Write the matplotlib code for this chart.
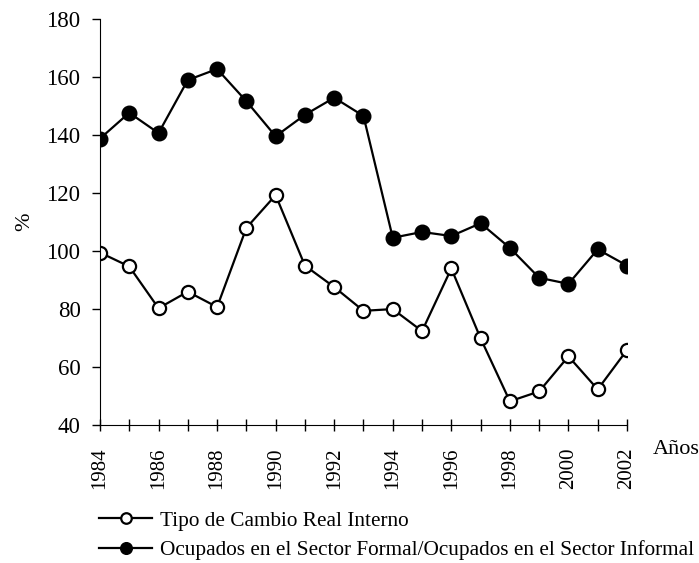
import numpy as np
from matplotlib import pyplot as plt

plt.rcParams['font.family'] = ['Liberation Serif', 'DejaVu Serif']

years = np.arange(1984, 2003)
tcri = [99.5, 94.7, 80.3, 86.0, 80.7, 108.0, 119.3, 95.0, 87.6, 79.4,
        80.0, 72.4, 94.0, 69.9, 48.2, 51.6, 63.7, 52.3, 65.9]
formal_informal = [138.8, 147.7, 140.7, 159.0, 162.8, 151.7, 139.6, 147.0, 152.9, 146.6,
                   104.6, 106.6, 105.2, 109.6, 101.1, 90.8, 88.7, 100.6, 95.0]
label_open = 'Tipo de Cambio Real Interno'
label_filled = 'Ocupados en el Sector Formal/Ocupados en el Sector Informal'

fig = plt.figure(figsize=(6.99, 5.63), dpi=100)
ax = fig.add_axes([0.143, 0.245, 0.754, 0.721])

ax.plot(years, tcri, '-o', color='black', lw=1.6, ms=9.5, mfc='white', mew=1.6, label=label_open)
ax.plot(years, formal_informal, '-o', color='black', lw=1.6, ms=10.5, mfc='black', label=label_filled)

ax.set_xlim(1984, 2002)
ax.set_ylim(40, 180)
ax.set_yticks(np.arange(40, 181, 20))
ax.set_xticks(years, minor=True)
ax.set_xticks(years[::2])
ax.set_xticklabels([str(y) for y in years[::2]], rotation=90)
ax.tick_params(axis='y', labelsize=16.5, direction='out', length=6, width=1, pad=8)
ax.tick_params(axis='x', labelsize=15, which='both', direction='inout', length=8, width=1, pad=12)
for s in ['top', 'right']:
    ax.spines[s].set_visible(False)

ax.set_ylabel('%', fontsize=16, labelpad=9)
fig.text(0.934, 0.201, 'Años', fontsize=16, va='center', ha='left')

fig.legend(loc='upper left', bbox_to_anchor=(0.13, 0.108), frameon=False, fontsize=15.3,
           handlelength=2.5, handletextpad=0.33, labelspacing=0.45, borderaxespad=0,
           markerscale=0.8)

fig.savefig('out.png', dpi=100)
